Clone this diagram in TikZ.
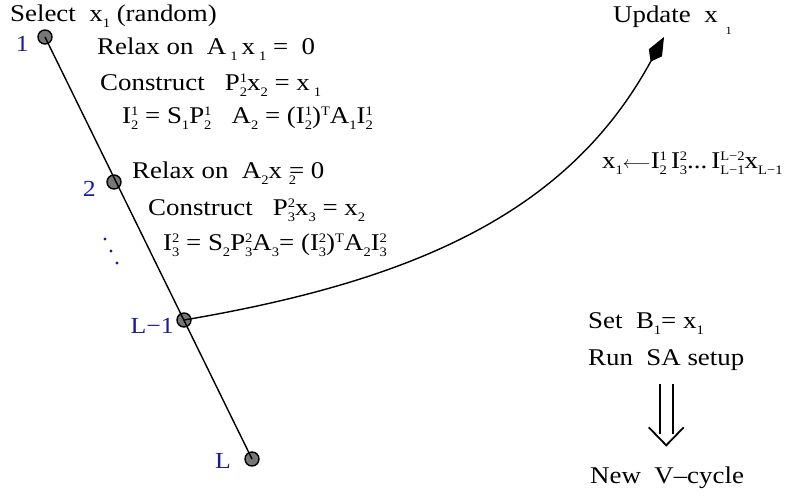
\documentclass[tikz,border=0pt]{standalone}
\usepackage{fontspec}
\setmainfont{Liberation Serif}[FakeStretch=1.12]
\usetikzlibrary{arrows.meta}
\definecolor{level}{HTML}{1A1A9E}
\definecolor{knot}{HTML}{777777}
\newcommand\subx[1]{\raisebox{-6pt}{\fontsize{13}{13}\selectfont #1}}
\newcommand\supx[1]{\raisebox{8pt}{\fontsize{13}{13}\selectfont #1}}
\newcommand\supsub[2]{\makebox[0pt][l]{\supx{#1}}\subx{#2}}
\tikzset{
  txt/.style   = {anchor=base west, inner sep=0pt, font=\fontsize{24}{28}\selectfont},
  lbl/.style   = {anchor=base east, inner sep=0pt, text=level,
                  font=\fontsize{23}{27}\selectfont},
  knotnode/.style = {circle, draw=black, line width=1.4pt, fill=knot,
                  minimum size=14pt, inner sep=0pt},
  arr/.style   = {line width=1.4pt, -{Kite[length=28pt,width=15pt,inset=10pt]}},
  dblline/.style = {line width=1.8pt}
}
\begin{document}
\begin{tikzpicture}[x=1pt, y=-1pt]
  \useasboundingbox (0,0) rectangle (792,498);
  % levels of the hierarchy
  \node[knotnode] (g1)  at (45,37)   {};
  \node[knotnode] (g2)  at (114,182) {};
  \node[knotnode] (gLm) at (184,320) {};
  \node[knotnode] (gL)  at (252,459) {};
  \draw[line width=1.4pt] (g1.center) -- (gL.center);
  \node[lbl] (n1)  at (29,51)   {1};
  \node[lbl] (n2)  at (96,196)  {2};
  \node[lbl] (nLm) at (174,333) {L−1};
  \node[lbl] (nL)  at (231,468) {L};
  \foreach \p in {(105,239),(111,251),(117,263)}
    \fill[level] \p circle (1.7pt);
  % setup steps
  \node[txt] (sel) at (10,21) {Select\ \ x\subx{1} (random)};
  \node[txt] (rx1) at (97,54) {Relax on\ \ A\,\subx{1}\,x\,\subx{1} =\ \ 0};
  \node[txt] (cs1) at (100,90) {Construct\ \ \ P\supsub{1}{2}x\subx{2} = x\,\subx{1}};
  \node[txt] (ip1) at (122,123) {I\supsub{1}{2}\ = S\subx{1}P\supsub{1}{2}\ \ \ A\subx{2} = (I\supsub{1}{2})\supx{T}A\subx{1}I\supsub{1}{2}};
  \node[txt] (rx2) at (132,178) {Relax on\ \ A\subx{2}x\ \subx{2}\kern-7pt= 0};
  \node[txt] (cs2) at (148,215) {Construct\ \ \ P\supsub{2}{3}x\subx{3} = x\subx{2}};
  \node[txt] (ip2) at (163,250) {I\supsub{2}{3} = S\subx{2}P\supsub{2}{3}A\subx{3}= (I\supsub{2}{3})\supx{T}A\subx{2}I\supsub{2}{3}};
  % update of the first vector
  \coordinate (tip) at (664,37);
  \draw[arr] (gLm.center) .. controls (420,280) and (570,210) .. (tip);
  \node[txt] (upd) at (613,22) {Update\ \ x\hspace{8pt}\raisebox{-12pt}{\fontsize{11}{11}\selectfont 1}};
  \node[txt] (prl) at (602,168) {x\subx{1}{\fontsize{19}{19}\selectfont$\longleftarrow$}I\supsub{1}{2}\,I\supsub{2}{3}...\,I\supsub{L−2}{L−1}x\subx{L−1}};
  % restart
  \node[txt] (set) at (588,328) {Set\ \ B\subx{1}= x\subx{1}};
  \node[txt] (run) at (588,365) {Run\ \ SA setup};
  \node[txt] (newv) at (590,483) {New\ \ V–cycle};
  \path (run.south) ++(0,14) coordinate (dtop);
  \draw[dblline] (dtop) ++(-6.5,0) -- ++(0,50) (dtop) ++(6.5,0) -- ++(0,50);
  \draw[dblline] (dtop) ++(-17.5,43) -- ++(17.5,18) -- ++(17.5,-18);
\end{tikzpicture}
\end{document}
